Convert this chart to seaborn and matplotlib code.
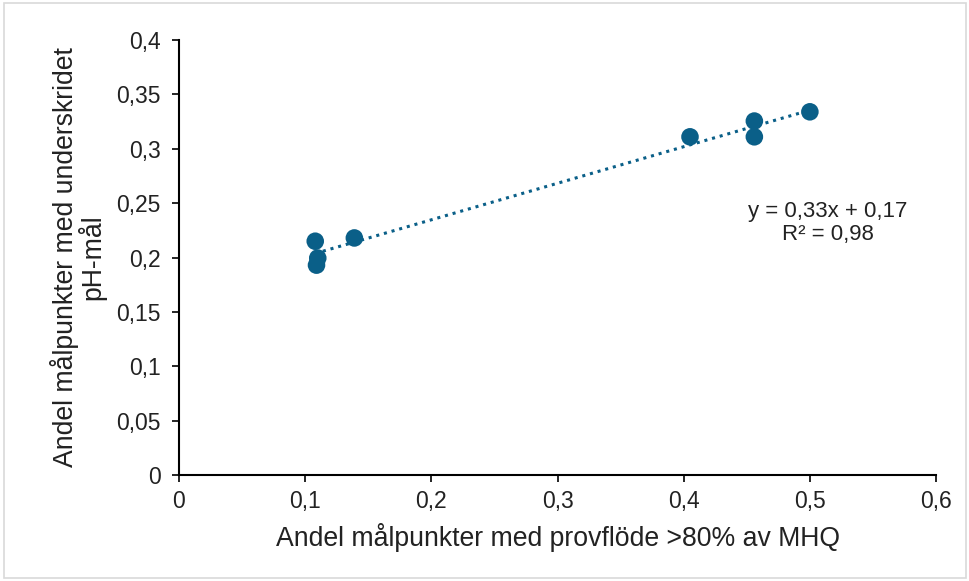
import numpy as np
import pandas as pd
import seaborn as sns
import matplotlib
matplotlib.use("Agg")
import matplotlib.pyplot as plt
from matplotlib.ticker import FuncFormatter, MultipleLocator

x_vals = [0.108, 0.110, 0.109, 0.139, 0.405, 0.456, 0.456, 0.500]
y_vals = [0.215, 0.1995, 0.193, 0.218, 0.311, 0.3255, 0.311, 0.334]
eq_lines = ["y = 0,33x + 0,17", "R² = 0,98"]
xlabel = "Andel målpunkter med provflöde >80% av MHQ"
ylabel = "Andel målpunkter med underskridet\npH-mål"
color = "#0A5F88"

df = pd.DataFrame({"x": x_vals, "y": y_vals})

sns.set_theme(style="white")
plt.rcParams["font.family"] = ["Liberation Sans", "DejaVu Sans"]

fig = plt.figure(figsize=(9.70, 5.81), dpi=100)
ax = fig.add_axes([0.1845, 0.1824, 0.7805, 0.7487])

sns.scatterplot(data=df, x="x", y="y", ax=ax, color=color, s=160,
                edgecolor="none", zorder=3)

slope, intercept = np.polyfit(df["x"], df["y"], 1)
xs = np.array([df["x"].min(), df["x"].max()])
sns.lineplot(x=xs, y=slope * xs + intercept, ax=ax, color=color,
             linestyle=(0, (1, 1.6)), linewidth=2.2, zorder=2)

def comma(v, pos=None):
    s = f"{v:.2f}".rstrip("0").rstrip(".")
    return s.replace(".", ",")

ax.set_xlim(0, 0.6)
ax.set_ylim(0, 0.4)
ax.xaxis.set_major_locator(MultipleLocator(0.1))
ax.yaxis.set_major_locator(MultipleLocator(0.05))
ax.xaxis.set_major_formatter(FuncFormatter(comma))
ax.yaxis.set_major_formatter(FuncFormatter(comma))

for s in ["top", "right"]:
    ax.spines[s].set_visible(False)
for s in ["left", "bottom"]:
    ax.spines[s].set_color("black")
    ax.spines[s].set_linewidth(1.5)
ax.tick_params(axis="both", which="major", direction="out", length=5,
               width=1.2, color="black", labelsize=16.5, labelcolor="#222222",
               bottom=True, left=True)
ax.tick_params(axis="y", pad=8)
ax.tick_params(axis="x", pad=6)

ax.set_xlabel(xlabel, fontsize=19.2, color="#222222", labelpad=7)
ax.set_ylabel(ylabel, fontsize=19.2, color="#222222", labelpad=7,
              linespacing=0.95)

ax.text(0.5145, 0.2317, "\n".join(eq_lines), ha="center", va="center",
        fontsize=16, color="#222222", linespacing=1.1,
        transform=ax.transData, multialignment="center")

fig.patches.append(plt.Rectangle((0.004, 0.006), 0.992, 0.988,
                                 transform=fig.transFigure, fill=False,
                                 edgecolor="#d9d9d9", linewidth=1.2))

fig.savefig("out.png", dpi=100, facecolor="white")
